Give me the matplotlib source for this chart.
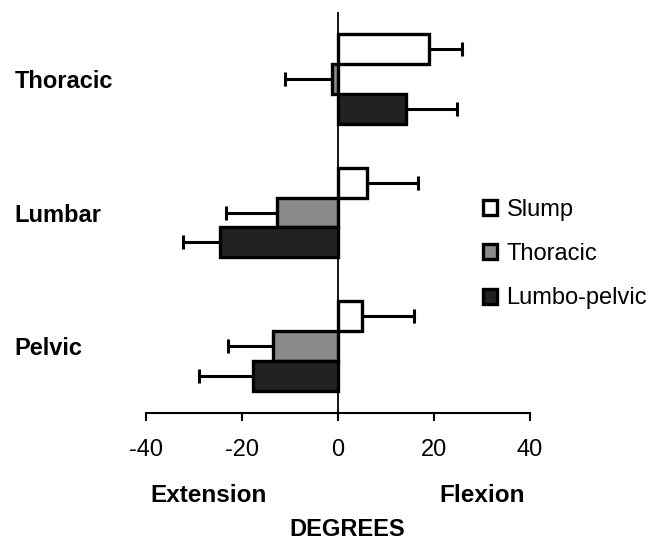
import matplotlib
matplotlib.use("Agg")
import matplotlib.pyplot as plt
import numpy as np
from matplotlib.patches import Patch

plt.rcParams['font.family'] = ['Liberation Sans', 'DejaVu Sans']

regions = ["Thoracic", "Lumbar", "Pelvic"]
series = ["Slump", "Thoracic", "Lumbo-pelvic"]
slump = [18.9, 6.0, 5.0]
slump_err = [6.9, 10.7, 10.8]
thoracic = [-1.2, -12.7, -13.5]
thoracic_err = [9.8, 10.6, 9.4]
lumbo = [14.1, -24.5, -17.6]
lumbo_err = [10.8, 7.7, 11.4]
xticks = [-40, -20, 0, 20, 40]

colors = ["#ffffff", "#8a8a8a", "#222222"]
values = [slump, thoracic, lumbo]
errors = [slump_err, thoracic_err, lumbo_err]

fig = plt.figure(figsize=(6.61, 5.42), dpi=100)
ax = fig.add_axes([145.7/661, 1-413/542, (530-145.7)/661, (413-12)/542])

y = np.arange(len(regions))
h = 0.224
offsets = [-h, 0, h]
for vals, errs, col, off, name in zip(values, errors, colors, offsets, series):
    vals = np.array(vals)
    errs = np.array(errs)
    lo = np.where(vals < 0, errs, 0)
    hi = np.where(vals >= 0, errs, 0)
    ax.barh(y + off, vals, height=h, color=col, edgecolor='black', linewidth=2.4,
            label=name, zorder=3)
    ax.errorbar(vals, y + off, xerr=[lo, hi], fmt='none', ecolor='black',
                elinewidth=2.2, capsize=4.7, capthick=2.2, zorder=2)

ax.axvline(0, color='black', linewidth=1.3, zorder=4)
ax.set_xlim(-40, 40)
ax.set_ylim(2.5, -0.5)
ax.set_xticks(xticks)
ax.set_xticklabels([str(t) for t in xticks], fontsize=17)
ax.tick_params(axis='x', length=5.5, width=1.5, pad=13.5, color='black')
ax.set_yticks(y)
ax.set_yticklabels(regions, fontsize=17, fontweight='bold')
ax.tick_params(axis='y', length=0, pad=94.3)
for lab in ax.get_yticklabels():
    lab.set_horizontalalignment('left')
for s in ['left', 'right', 'top']:
    ax.spines[s].set_visible(False)
ax.spines['bottom'].set_linewidth(1.5)

handles = [Patch(facecolor=c, edgecolor='black', linewidth=2.4) for c in colors]
ax.legend(handles, series, loc='center left', bbox_to_anchor=(483/661, 1-254/542),
          bbox_transform=fig.transFigure, frameon=False, fontsize=17,
          handlelength=0.6, handleheight=0.6, handletextpad=0.4, labelspacing=0.95,
          borderpad=0, borderaxespad=0)

fig.text(208.5/661, 1-496/542, "Extension", ha='center', va='center', fontsize=17.5, fontweight='bold')
fig.text(482.5/661, 1-496/542, "Flexion", ha='center', va='center', fontsize=17.5, fontweight='bold')
fig.text(347.5/661, 1-529/542, "DEGREES", ha='center', va='center', fontsize=17, fontweight='bold')

fig.savefig("out.png", dpi=100)
